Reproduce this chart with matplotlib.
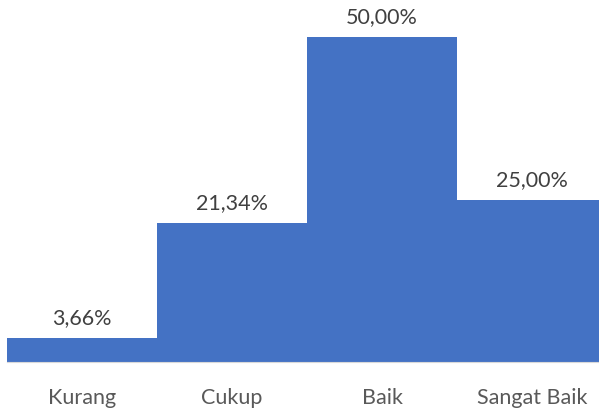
import matplotlib.pyplot as plt

kategori = ["Kurang", "Cukup", "Baik", "Sangat Baik"]
persen = [3.66, 21.34, 50.00, 25.00]
label = ["3,66%", "21,34%", "50,00%", "25,00%"]

plt.rcParams['font.family'] = ['Lato', 'DejaVu Sans']

fig = plt.figure(figsize=(5.99, 4.12), dpi=100)
ax = fig.add_axes([7/599, 50/412, 600/599, 325/412])

x = range(len(kategori))
bars = ax.bar(x, persen, width=1.0, color="#4472C4", edgecolor="none")
ax.set_xlim(-0.5, 3.5)
ax.set_ylim(0, 50)

for b, t in zip(bars, label):
    ax.annotate(t, (b.get_x() + b.get_width()/2, b.get_height()),
                xytext=(0, 7), textcoords="offset points",
                ha="center", va="bottom", fontsize=15.5, color="#404040",
                annotation_clip=False)

for s in ["top", "left", "right"]:
    ax.spines[s].set_visible(False)
ax.spines["bottom"].set_color("#D9D9D9")
ax.set_yticks([])
ax.set_xticks(list(x))
ax.set_xticklabels(kategori, fontsize=15.5, color="#595959")
ax.tick_params(axis="x", length=0, pad=19)

fig.savefig("out.png", dpi=100)
